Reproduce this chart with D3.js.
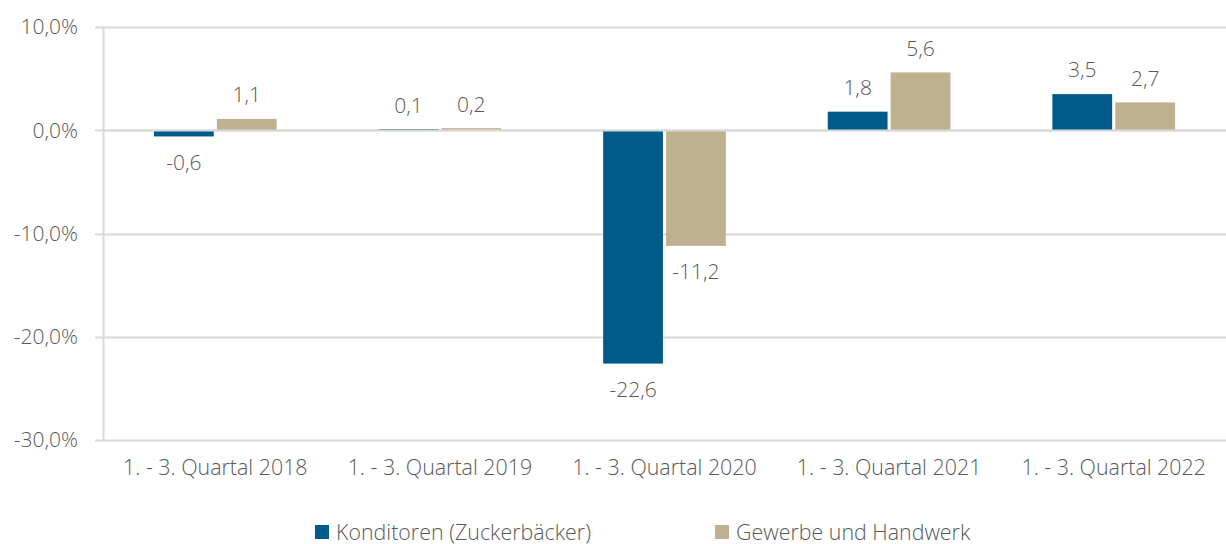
<!DOCTYPE html>
<html>
<head>
<meta charset="utf-8">
<script src="https://cdn.jsdelivr.net/npm/d3@7"></script>
<style>
  body { margin: 0; background: #fff; }
  text { font-family: "Open Sans", "Noto Sans", sans-serif; font-weight: 300; fill: #595959; }
</style>
</head>
<body>
<div id="chart"></div>
<script>
// chart data
const categories = ["1. - 3. Quartal 2018", "1. - 3. Quartal 2019", "1. - 3. Quartal 2020", "1. - 3. Quartal 2021", "1. - 3. Quartal 2022"];
const seriesNames = ["Konditoren (Zuckerbäcker)", "Gewerbe und Handwerk"];
const konditoren = [-0.6, 0.1, -22.6, 1.8, 3.5];
const gewerbe = [1.1, 0.2, -11.2, 5.6, 2.7];
const yTicks = [10, 0, -10, -20, -30];

const colors = ["#005b8a", "#bfb190"];
const width = 1226, height = 544;
const margin = { left: 103, top: 27, right: 0, bottom: 104 };

const svg = d3.select('#chart')
  .append('svg')
  .attr('width', width)
  .attr('height', height);

let y = d3.scaleLinear()
  .domain([-30, 10])
  .range([height - margin.bottom, margin.top]);

let x0 = d3.scaleBand()
  .domain(categories)
  .range([margin.left, width - margin.right])
  .paddingInner(0)
  .paddingOuter(0);

// inner band for the two series
let x1 = d3.scaleBand()
  .domain(seriesNames)
  .range([0, x0.bandwidth()])
  .paddingInner(0.05)
  .paddingOuter(0.81);

// comma decimals, plain hyphen for negatives
const num = v => d3.format(".1f")(v).replace(".", ",").replace("\u2212", "-");
const fmt = v => num(v) + "%";

// gridlines + y labels
svg.append('g')
  .selectAll('line')
  .data(yTicks)
  .enter()
  .append('line')
  .attr('x1', margin.left - 8)
  .attr('x2', width)
  .attr('y1', d => Math.round(y(d)) + 0.5)
  .attr('y2', d => Math.round(y(d)) + 0.5)
  .attr('stroke', '#d9d9d9')
  .attr('stroke-width', 2);

svg.append('line')
  .attr('x1', margin.left + 0.5)
  .attr('x2', margin.left + 0.5)
  .attr('y1', y(10))
  .attr('y2', y(-30))
  .attr('stroke', '#d9d9d9')
  .attr('stroke-width', 2);

svg.append('g')
  .selectAll('text')
  .data(yTicks)
  .enter()
  .append('text')
  .attr('x', 78)
  .attr('y', d => y(d))
  .attr('dy', '0.35em')
  .attr('text-anchor', 'end')
  .style('font-size', '21px')
  .text(fmt);

// bars
const rows = categories.map((c, i) => ({ cat: c, values: [konditoren[i], gewerbe[i]] }));

const groups = svg.append('g')
  .selectAll('g')
  .data(rows)
  .enter()
  .append('g')
  .attr('transform', d => `translate(${x0(d.cat)},0)`);

groups.selectAll('rect')
  .data(d => d.values.map((v, k) => ({ name: seriesNames[k], v: v, k: k })))
  .enter()
  .append('rect')
  .attr('x', d => x1(d.name))
  .attr('width', x1.bandwidth())
  .attr('y', d => y(Math.max(0, d.v)))
  .attr('height', d => Math.abs(y(d.v) - y(0)))
  .attr('fill', d => colors[d.k]);

// zero line sits on top of the bars
svg.append('line')
  .attr('x1', margin.left)
  .attr('x2', width)
  .attr('y1', Math.round(y(0)) + 0.5)
  .attr('y2', Math.round(y(0)) + 0.5)
  .attr('stroke', '#d9d9d9')
  .attr('stroke-width', 2);

// value labels
groups.selectAll('text')
  .data(d => d.values.map((v, k) => ({ name: seriesNames[k], v: v, k: k })))
  .enter()
  .append('text')
  .attr('x', d => x1(d.name) + x1.bandwidth() / 2)
  .attr('y', d => d.v >= 0 ? y(d.v) - 24 : y(d.v) + 26)
  .attr('dy', '0.35em')
  .attr('text-anchor', 'middle')
  .style('font-size', '21px')
  .text(d => num(d.v));

// category labels
svg.append('g')
  .selectAll('text')
  .data(categories)
  .enter()
  .append('text')
  .attr('x', d => x0(d) + x0.bandwidth() / 2)
  .attr('y', 468)
  .attr('dy', '0.35em')
  .attr('text-anchor', 'middle')
  .style('font-size', '21.4px')
  .text(d => d);

// legend
const legendX = [315, 715];
const legend = svg.append('g')
  .selectAll('g')
  .data(seriesNames)
  .enter()
  .append('g')
  .attr('transform', (d, i) => `translate(${legendX[i]},525)`);
legend.append('rect')
  .attr('width', 14)
  .attr('height', 14)
  .attr('fill', (d, i) => colors[i]);
legend.append('text')
  .attr('x', 21)
  .attr('y', 7)
  .attr('dy', '0.35em')
  .style('font-size', '21.4px')
  .text(d => d);
</script>
</body>
</html>
